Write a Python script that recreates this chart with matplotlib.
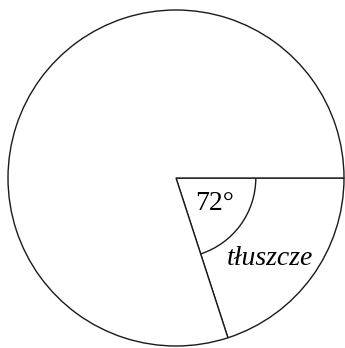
import numpy as np
import matplotlib.pyplot as plt
from matplotlib.patches import Arc

# Dane: kąt wycinka (stopnie) i etykieta
labels = ["tłuszcze", ""]
angles = [72, 288]

fig = plt.figure(figsize=(3.45, 3.48), dpi=100)
ax = fig.add_axes([8 / 345, 2 / 348, 336 / 345, 336 / 348])

ax.pie(angles, startangle=0, counterclock=False, radius=1,
       colors=["white", "white"],
       wedgeprops=dict(edgecolor="#1a1a1a", linewidth=1.0))

# mały łuk zaznaczający kąt
ax.add_patch(Arc((0, 0), 0.95, 0.95, theta1=-angles[0], theta2=0,
                 color="#1a1a1a", lw=1.0))

ax.text(0.232, -0.149, f"{angles[0]}°", fontsize=20, family="Liberation Serif",
        ha="center", va="center")
ax.text(0.56, -0.48, labels[0], fontsize=20, family="Liberation Serif",
        style="italic", ha="center", va="center")

ax.set_xlim(-1.0, 1.0)
ax.set_ylim(-1.0, 1.0)
ax.set_aspect("auto")
ax.axis("off")

plt.savefig("out.png", dpi=100)
